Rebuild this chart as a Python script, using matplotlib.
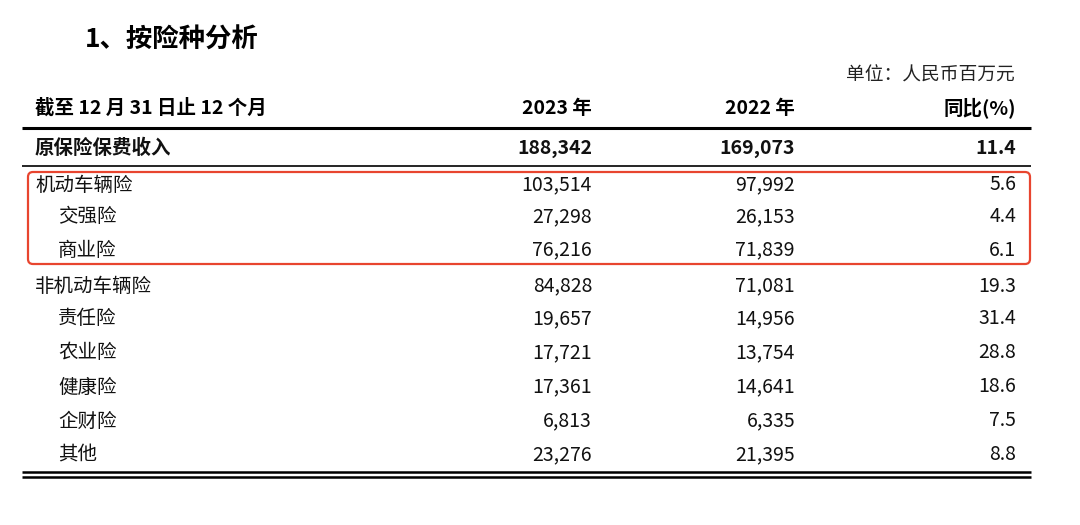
import matplotlib
matplotlib.use("Agg")
import matplotlib.pyplot as plt
from matplotlib.patches import FancyBboxPatch

plt.rcParams['font.family'] = ['Noto Sans CJK SC', 'DejaVu Sans']

title = "1、按险种分析"
unit_note = "单位：人民币百万元"
header = ["截至 12 月 31 日止 12 个月", "2023 年", "2022 年", "同比(%)"]

categories = ["原保险保费收入", "机动车辆险", "交强险", "商业险", "非机动车辆险",
              "责任险", "农业险", "健康险", "企财险", "其他"]
indent = [0, 0, 1, 1, 0, 1, 1, 1, 1, 1]
values_2023 = [188342, 103514, 27298, 76216, 84828, 19657, 17721, 17361, 6813, 23276]
values_2022 = [169073, 97992, 26153, 71839, 71081, 14956, 13754, 14641, 6335, 21395]
yoy_pct = [11.4, 5.6, 4.4, 6.1, 19.3, 31.4, 28.8, 18.6, 7.5, 8.8]
highlight_rows = [1, 2, 3]

W, H = 1080, 525
fig = plt.figure(figsize=(W / 100, H / 100), dpi=100)
ax = fig.add_axes([0, 0, 1, 1])
ax.set_xlim(0, W)
ax.set_ylim(H, 0)
ax.axis('off')

fs = 14
ax.text(85, 40, title, fontsize=19, fontweight='bold', va='center', ha='left')
ax.text(1015, 75, unit_note, fontsize=13.5, va='center', ha='right', color='#222222')

hy = 108
ax.text(35, hy, header[0], fontsize=fs, fontweight='bold', va='center', ha='left')
col_x = [592, 795, 1016]
for i, h in enumerate(header[1:]):
    ax.text(col_x[i], hy, h, fontsize=fs, fontweight='bold', va='center', ha='right')

x0, x1 = 22, 1031
ax.plot([x0, x1], [128, 128], color='black', lw=2.2, solid_capstyle='butt')
ax.plot([x0, x1], [165.5, 165.5], color='black', lw=1.2, solid_capstyle='butt')

row_y = [148, 185, 217, 250, 286, 319, 353, 387, 421, 455]
for i, cat in enumerate(categories):
    bold = 'bold' if i == 0 else 'normal'
    ax.text(35 + 23 * indent[i], row_y[i], cat, fontsize=fs, fontweight=bold,
            va='center', ha='left', color='#111111')
    ax.text(col_x[0], row_y[i], f"{values_2023[i]:,}", fontsize=fs, fontweight=bold,
            va='center', ha='right', color='#111111')
    ax.text(col_x[1], row_y[i], f"{values_2022[i]:,}", fontsize=fs, fontweight=bold,
            va='center', ha='right', color='#111111')
    ax.text(col_x[2], row_y[i], f"{yoy_pct[i]:.1f}", fontsize=fs, fontweight=bold,
            va='center', ha='right', color='#111111')

# highlight box
top = row_y[highlight_rows[0]] - 13
bot = row_y[highlight_rows[-1]] + 14
box = FancyBboxPatch((28, top), 1002, bot - top,
                     boxstyle="round,pad=0,rounding_size=5",
                     fill=False, edgecolor='#e8452f', lw=1.6)
ax.add_patch(box)

ax.plot([x0, x1], [472, 472], color='black', lw=1.8, solid_capstyle='butt')
ax.plot([x0, x1], [476.5, 476.5], color='black', lw=1.8, solid_capstyle='butt')

fig.savefig("out.png", dpi=100, facecolor='white')
